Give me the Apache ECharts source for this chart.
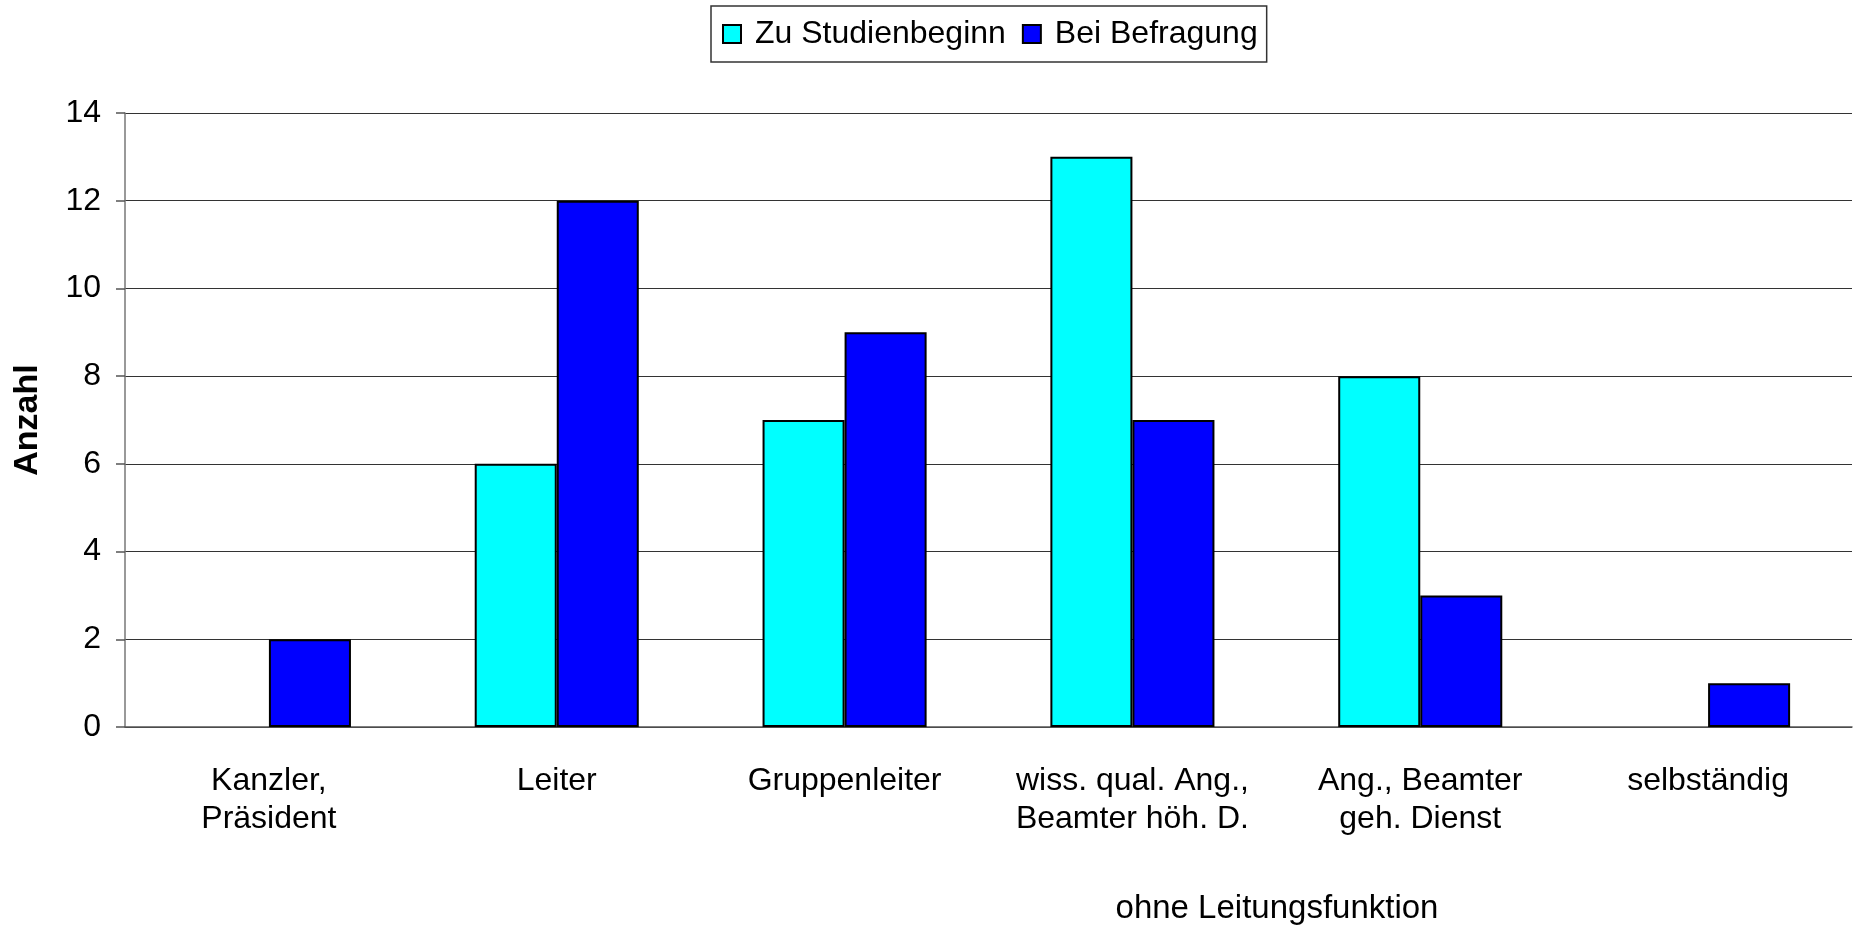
<!DOCTYPE html>
<html><head><meta charset="utf-8">
<script src="https://cdn.jsdelivr.net/npm/echarts@6/dist/echarts.min.js"></script>
<style>html,body{margin:0;padding:0;background:#fff}#c{width:1857px;height:928px}</style>
</head><body><div id="c"></div>
<script>
const categories = ["Kanzler,\nPräsident", "Leiter", "Gruppenleiter", "wiss. qual. Ang.,\nBeamter höh. D.", "Ang., Beamter\ngeh. Dienst", "selbständig"];
const seriesNames = ["Zu Studienbeginn", "Bei Befragung"];
const studienbeginn = [null, 6, 7, 13, 8, null];
const befragung = [2, 12, 9, 7, 3, 1];
const yAxisTitle = "Anzahl";
const groupNote = "ohne Leitungsfunktion";

const FONT = "Liberation Sans, Arial, sans-serif";
const chart = echarts.init(document.getElementById('c'));
chart.setOption({
  animation: false,
  backgroundColor: '#fff',
  textStyle: { fontFamily: FONT },
  legend: {
    top: 6, left: 711,
    padding: [12, 9, 12, 11],
    itemGap: 16,
    itemWidth: 18, itemHeight: 18,
    icon: 'rect',
    borderColor: '#333', borderWidth: 1.5,
    textStyle: { fontSize: 32, color: '#000', fontFamily: FONT, padding: [0, 0, 0, 9] },
    data: seriesNames
  },
  grid: { left: 125, right: 5, top: 113, bottom: 201, containLabel: false },
  xAxis: {
    type: 'category',
    data: categories,
    axisLine: { lineStyle: { color: '#555', width: 1.5 } },
    axisTick: { length: 10, lineStyle: { color: '#555', width: 1.5 } },
    axisLabel: { color: '#000', fontSize: 32, lineHeight: 38, margin: 35, fontFamily: FONT, interval: 0 }
  },
  yAxis: {
    type: 'value', min: 0, max: 14, interval: 2,
    name: yAxisTitle, nameLocation: 'middle', nameGap: 80, nameRotate: 90,
    nameTextStyle: { fontSize: 34, fontWeight: 'bold', color: '#000', fontFamily: FONT },
    axisLine: { show: true, lineStyle: { color: '#777', width: 1.5 } },
    axisTick: { show: true, length: 9, lineStyle: { color: '#555', width: 1.5 } },
    axisLabel: { color: '#000', fontSize: 32, margin: 24, fontFamily: FONT },
    splitLine: { lineStyle: { color: '#333', width: 1.2 } }
  },
  series: [
    { name: seriesNames[0], type: 'bar', data: studienbeginn, barGap: '0%', barCategoryGap: '43%',
      itemStyle: { color: '#00FFFF', borderColor: '#000', borderWidth: 2 } },
    { name: seriesNames[1], type: 'bar', data: befragung, barGap: '0%', barCategoryGap: '43%',
      itemStyle: { color: '#0000FF', borderColor: '#000', borderWidth: 2 } }
  ],
  graphic: [
    { type: 'text', x: 1277, y: 909,
      style: { text: groupNote, fontSize: 33, fill: '#000', fontFamily: FONT, align: 'center', verticalAlign: 'middle' } }
  ]
});
</script></body></html>
